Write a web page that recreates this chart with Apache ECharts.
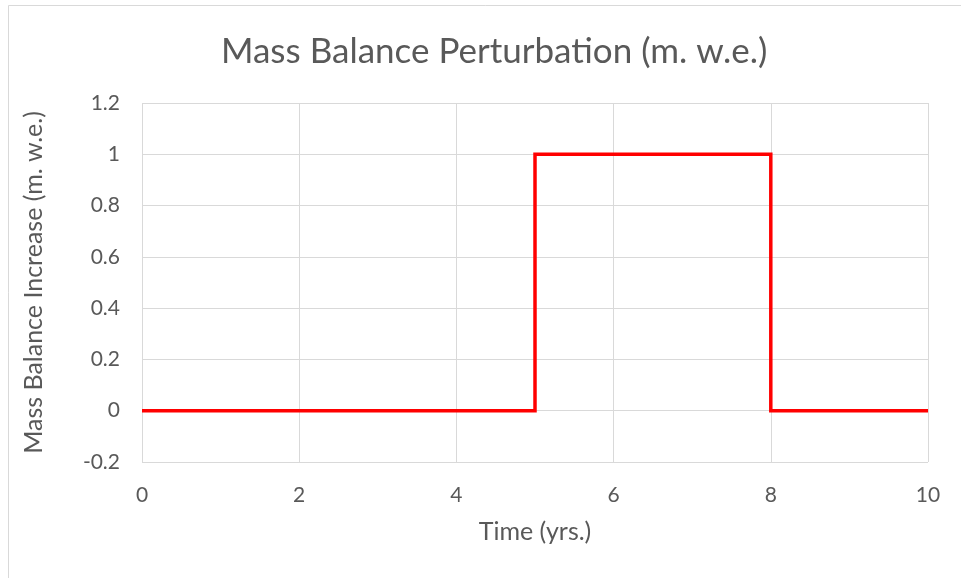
<!DOCTYPE html>
<html><head><meta charset="utf-8">
<script src="https://cdn.jsdelivr.net/npm/echarts@6/dist/echarts.min.js"></script>
<style>html,body{margin:0;padding:0;background:#fff}#c{width:961px;height:578px}</style>
</head><body><div id="c"></div>
<script>
var xValues = [0, 5, 5, 8, 8, 10];
var yValues = [0, 0, 1, 1, 0, 0];
var xTicks = [0, 2, 4, 6, 8, 10];
var yTicks = [-0.2, 0, 0.2, 0.4, 0.6, 0.8, 1, 1.2];
var titleText = 'Mass Balance Perturbation (m. w.e.)';
var xName = 'Time (yrs.)';
var yName = 'Mass Balance Increase (m. w.e.)';

var font = 'Lato, "Open Sans", sans-serif';
var chart = echarts.init(document.getElementById('c'), null, {renderer: 'canvas'});
chart.setOption({
  animation: false,
  backgroundColor: '#fff',
  graphic: [{type: 'rect', shape: {x: 8.5, y: 5.5, width: 960, height: 580}, style: {fill: 'none', stroke: '#d9d9d9', lineWidth: 1}, z: -1}],
  title: {text: titleText, left: 216, top: 29, textStyle: {fontFamily: font, fontSize: 35, fontWeight: 'normal', color: '#595959'}},
  grid: {left: 142, right: 33, top: 103, bottom: 116},
  xAxis: {
    type: 'value', min: xTicks[0], max: xTicks[xTicks.length - 1], interval: 2,
    name: xName, nameLocation: 'middle', nameGap: 57,
    nameTextStyle: {fontFamily: font, fontSize: 25, color: '#595959'},
    axisLine: {show: false}, axisTick: {show: false},
    axisLabel: {fontFamily: font, fontSize: 21, color: '#595959', margin: 23},
    splitLine: {show: true, lineStyle: {color: '#d9d9d9', width: 1}}
  },
  yAxis: {
    type: 'value', min: yTicks[0], max: yTicks[yTicks.length - 1], interval: 0.2,
    name: yName, nameLocation: 'middle', nameGap: 96, nameRotate: 90,
    nameTextStyle: {fontFamily: font, fontSize: 25, color: '#595959'},
    axisLine: {show: false}, axisTick: {show: false},
    axisLabel: {fontFamily: font, fontSize: 21, color: '#595959', margin: 22,
      formatter: function (v) { return String(Math.round(v * 10) / 10); }},
    splitLine: {show: true, lineStyle: {color: '#d9d9d9', width: 1}}
  },
  series: [{
    type: 'line', showSymbol: false, symbol: 'none',
    data: xValues.map(function (x, i) { return [x, yValues[i]]; }),
    lineStyle: {color: '#ff0000', width: 3.5, join: 'miter'}
  }]
});
</script></body></html>
